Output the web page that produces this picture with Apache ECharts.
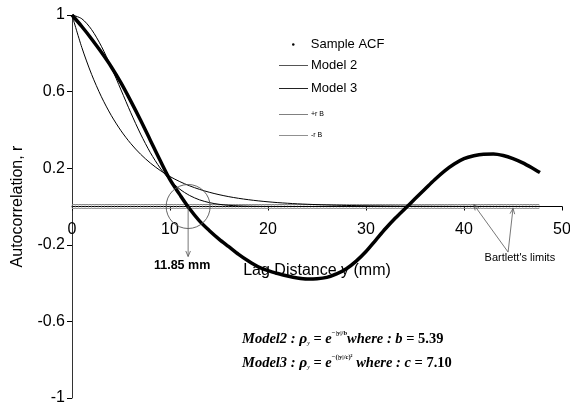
<!DOCTYPE html>
<html>
<head>
<meta charset="utf-8">
<script src="https://cdn.jsdelivr.net/npm/echarts@6/dist/echarts.min.js"></script>
<style>
  html, body { margin: 0; padding: 0; background: #fff; }
  #chart { width: 570px; height: 405px; }
</style>
</head>
<body>
<div id="chart"></div>
<script>
// Lag distances (mm) at which the autocorrelation is evaluated
const lags = [0, 1, 2, 3, 4, 5, 6, 7, 8, 9, 10, 11, 12, 13, 14, 15, 16, 17, 18, 19, 20,
  21, 22, 23, 24, 25, 26, 27, 28, 29, 30, 31, 32, 33, 34, 35, 36, 37, 38, 39, 40,
  41, 42, 43, 44, 45, 46, 47, 47.75];

// Sample autocorrelation function
const sampleAcf = [1, 0.94, 0.875, 0.805, 0.73, 0.645, 0.55, 0.45, 0.345, 0.24, 0.14,
  0.062, -0.012, -0.075, -0.125, -0.17, -0.21, -0.25, -0.285, -0.315, -0.335,
  -0.35, -0.363, -0.373, -0.378, -0.377, -0.37, -0.352, -0.325, -0.285, -0.235,
  -0.175, -0.115, -0.06, -0.01, 0.04, 0.09, 0.14, 0.185, 0.222, 0.25,
  0.265, 0.273, 0.274, 0.266, 0.25, 0.228, 0.2, 0.177];

// Model 2: exponential, b = 5.39
const model2 = [1, 0.8307, 0.69, 0.5731, 0.4761, 0.3955, 0.3285, 0.2729, 0.2267, 0.1883, 0.1564,
  0.1299, 0.1079, 0.0897, 0.0745, 0.0619, 0.0514, 0.0427, 0.0355, 0.0295, 0.0245,
  0.0203, 0.0169, 0.014, 0.0117, 0.0097, 0.0081, 0.0067, 0.0055, 0.0046, 0.0038,
  0.0032, 0.0026, 0.0022, 0.0018, 0.0015, 0.0013, 0.001, 0.0009, 0.0007, 0.0006,
  0.0005, 0.0004, 0.0003, 0.0003, 0.0002, 0.0002, 0.0002, 0.0001];

// Model 3: squared exponential, c = 7.10
const model3 = [1, 0.9804, 0.9237, 0.8365, 0.728, 0.609, 0.4896, 0.3783, 0.281, 0.2006, 0.1376,
  0.0907, 0.0575, 0.035, 0.0205, 0.0115, 0.0062, 0.0032, 0.0016, 0.0008, 0.0004,
  0.0002, 0.0001, 0, 0, 0, 0, 0, 0, 0, 0,
  0, 0, 0, 0, 0, 0, 0, 0, 0, 0,
  0, 0, 0, 0, 0, 0, 0, 0];

// Bartlett's limits (+r_B / -r_B)
const bartlettLimit = 0.01;
const bartlettStart = 0;
const bartlettEnd = 47.75;
const bartlettStep = 1 / 3;

// Axis ticks
const xTicks = { min: 0, max: 50, interval: 10 };
const yRange = { min: -1, max: 1 };
const yTickValues = [-1, -0.6, -0.2, 0.2, 0.6, 1];

// First zero crossing of the sample ACF
const zeroCrossingLag = 11.85;
const zeroCrossingLabel = '11.85 mm';

const seriesNames = ['Sample ACF', 'Model 2', 'Model 3', '+r B', '-r B'];

const pair = (xs, ys) => xs.map((x, i) => [x, ys[i]]);
const bartlettLags = [];
for (let x = bartlettStart; x <= bartlettEnd + 1e-9; x += bartlettStep) bartlettLags.push(+x.toFixed(3));

const FONT = '"Liberation Sans", Arial, sans-serif';
const SERIF = '"Liberation Serif", "Times New Roman", serif';

const GRID = { left: 72, right: 8, top: 15, bottom: 7 };
const plotHeight = 405 - GRID.top - GRID.bottom;
// x axis drawn through y = 0 (lifted from the bottom edge of the grid)
const xAxisLift = -plotHeight * (0 - yRange.min) / (yRange.max - yRange.min);

const chart = echarts.init(document.getElementById('chart'), null, { renderer: 'canvas' });

// One legend block per entry so each row sits where it should
const legendRows = [
  { name: seriesNames[0], left: 292, top: 38, size: 13, icon: 'circle', h: 2.5 },
  { name: seriesNames[1], left: 279, top: 59, size: 13, icon: 'rect', h: 1 },
  { name: seriesNames[2], left: 279, top: 82, size: 13, icon: 'rect', h: 1 },
  { name: seriesNames[3], left: 279, top: 111, size: 7, icon: 'rect', h: 1 },
  { name: seriesNames[4], left: 279, top: 132, size: 7, icon: 'rect', h: 1 }
];

const option = {
  animation: false,
  backgroundColor: '#fff',
  grid: Object.assign({ containLabel: false, outerBoundsMode: 'none' }, GRID),
  legend: legendRows.map(r => ({
    left: r.left, top: r.top, orient: 'vertical',
    itemWidth: 29, itemHeight: r.h, itemGap: 0, padding: 0,
    selectedMode: false,
    textStyle: { fontFamily: FONT, fontSize: r.size, color: '#000', padding: [0, 0, 0, -2] },
    data: [{ name: r.name, icon: r.icon }]
  })),
  xAxis: {
    type: 'value', min: xTicks.min, max: xTicks.max, interval: xTicks.interval,
    offset: xAxisLift,
    name: 'Lag Distance y (mm)', nameLocation: 'middle', nameGap: 56,
    nameTextStyle: { fontFamily: FONT, fontSize: 16, color: '#000' },
    axisLine: { onZero: false, lineStyle: { color: '#000', width: 1 } },
    axisTick: { show: true, length: 4, lineStyle: { color: '#000' } },
    axisLabel: { fontFamily: FONT, fontSize: 16, color: '#000', margin: 15 },
    splitLine: { show: false }
  },
  yAxis: {
    type: 'value', min: yRange.min, max: yRange.max,
    name: 'Autocorrelation, r', nameLocation: 'middle', nameGap: 46,
    nameTextStyle: { fontFamily: FONT, fontSize: 16, color: '#000' },
    axisLine: { show: true, lineStyle: { color: '#333', width: 1 } },
    axisTick: { show: true, length: 5, customValues: yTickValues, lineStyle: { color: '#000' } },
    axisLabel: { fontFamily: FONT, fontSize: 16, color: '#000', margin: 7, customValues: yTickValues },
    splitLine: { show: false }
  },
  series: [
    {
      name: seriesNames[3], type: 'line', data: bartlettLags.map(x => [x, bartlettLimit]),
      symbol: 'none', lineStyle: { color: '#808080', width: 1 }, itemStyle: { color: '#808080' },
      z: 1, silent: true
    },
    {
      name: seriesNames[4], type: 'line', data: bartlettLags.map(x => [x, -bartlettLimit]),
      symbol: 'none', lineStyle: { color: '#909090', width: 1 }, itemStyle: { color: '#909090' },
      z: 1, silent: true
    },
    {
      // short rungs joining the two limit lines
      name: 'rungs', type: 'scatter', data: bartlettLags.map(x => [x, 0]),
      symbol: 'rect', symbolSize: [0.7, 4], itemStyle: { color: '#a0a0a0' },
      z: 1, silent: true
    },
    {
      name: seriesNames[1], type: 'line', data: pair(lags, model2), smooth: 0.3,
      symbol: 'none', lineStyle: { color: '#000', width: 1 }, itemStyle: { color: '#555' }, z: 3
    },
    {
      name: seriesNames[2], type: 'line', data: pair(lags, model3), smooth: 0.3,
      symbol: 'none', lineStyle: { color: '#000', width: 1 }, itemStyle: { color: '#222' }, z: 3
    },
    {
      name: seriesNames[0], type: 'line', data: pair(lags, sampleAcf), smooth: 0.3,
      symbol: 'none', lineStyle: { color: '#000', width: 3.5 }, itemStyle: { color: '#000' }, z: 4
    }
  ]
};
chart.setOption(option);

// Annotations placed from data coordinates
const px = p => chart.convertToPixel({ gridIndex: 0 }, p);

function arrow(from, to, color) {
  const ang = Math.atan2(to[1] - from[1], to[0] - from[0]);
  const h = 6, w = 0.4;
  const p1 = [to[0] - h * Math.cos(ang - w), to[1] - h * Math.sin(ang - w)];
  const p2 = [to[0] - h * Math.cos(ang + w), to[1] - h * Math.sin(ang + w)];
  return [
    { type: 'line', z: 100, shape: { x1: from[0], y1: from[1], x2: to[0], y2: to[1] }, style: { stroke: color, lineWidth: 0.8 } },
    { type: 'polyline', z: 100, shape: { points: [p1, to, p2] }, style: { stroke: color, lineWidth: 0.8, fill: null } }
  ];
}

// Formula pieces laid out one after another, with super/subscripts
const measure = document.createElement('canvas').getContext('2d');
function formulaLine(pieces, x0, yc) {
  let x = x0;
  return pieces.map(p => {
    const font = (p.i ? 'italic ' : '') + (p.b ? 'bold ' : '') + p.s + 'px ' + SERIF;
    measure.font = font;
    const el = { type: 'text', z: 100, x: x, y: yc + (p.dy || 0),
      style: { text: p.t, font: font, fill: '#000', align: 'left', verticalAlign: 'middle' } };
    x += measure.measureText(p.t).width;
    return el;
  });
}
const formula2 = [
  { t: 'Model2 : ', i: 1, b: 1, s: 14.5 }, { t: 'ρ', i: 1, b: 1, s: 15.5 }, { t: 'y', i: 1, s: 6, dy: 4 },
  { t: ' = ', b: 1, s: 14.5 }, { t: 'e', i: 1, b: 1, s: 14.5 }, { t: '−|y|/b', b: 1, s: 6.5, dy: -6 },
  { t: 'where : b', i: 1, b: 1, s: 14.5 }, { t: ' = 5.39', b: 1, s: 14.5 }
];
const formula3 = [
  { t: 'Model3 : ', i: 1, b: 1, s: 14.5 }, { t: 'ρ', i: 1, b: 1, s: 15.5 }, { t: 'y', i: 1, s: 6, dy: 4 },
  { t: ' = ', b: 1, s: 14.5 }, { t: 'e', i: 1, b: 1, s: 14.5 }, { t: '−(|y|/c)²', b: 1, s: 6.5, dy: -6 },
  { t: ' where : c', i: 1, b: 1, s: 14.5 }, { t: ' = 7.10', b: 1, s: 14.5 }
];

const c = px([zeroCrossingLag, 0]);
const bTipUp = px([41, bartlettLimit]);
const bTipDown = px([45, -bartlettLimit]);
const bFrom = px([44.5, -0.238]);
const bText = px([45.7, -0.268]);

chart.setOption({
  graphic: [
    { type: 'circle', z: 100, shape: { cx: c[0], cy: c[1], r: 22 }, style: { stroke: '#555', lineWidth: 0.9, fill: null } },
    ...arrow([c[0], c[1]], [c[0], c[1] + 50], '#555'),
    { type: 'text', z: 100, x: c[0] - 6, y: c[1] + 59,
      style: { text: zeroCrossingLabel, fontFamily: FONT, fontWeight: 'bold', fontSize: 12.5, fill: '#000', align: 'center', verticalAlign: 'middle' } },
    ...arrow(bFrom, bTipUp, '#555'),
    ...arrow(bFrom, bTipDown, '#555'),
    { type: 'text', z: 100, x: bText[0], y: bText[1],
      style: { text: "Bartlett's limits", fontFamily: FONT, fontSize: 11, fill: '#000', align: 'center', verticalAlign: 'middle' } },
    ...formulaLine(formula2, 242, 339),
    ...formulaLine(formula3, 242, 363)
  ]
});
</script>
</body>
</html>
